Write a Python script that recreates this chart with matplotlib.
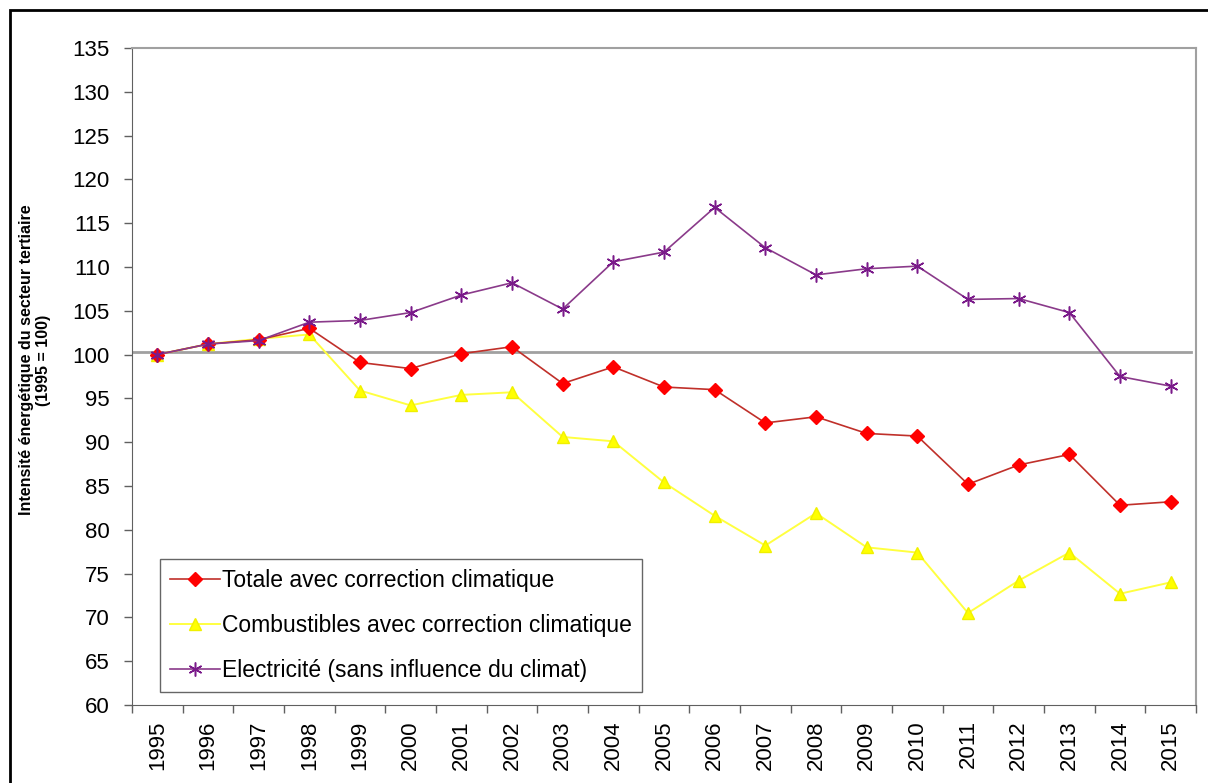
import matplotlib.pyplot as plt
from matplotlib.patches import Rectangle

plt.rcParams['font.family'] = ['Liberation Sans', 'DejaVu Sans']

# donnees (indice 1995 = 100)
annees = [str(a) for a in range(1995, 2016)]
totale = [100.0, 101.2, 101.7, 103.0, 99.1, 98.4, 100.1, 100.9, 96.7, 98.6, 96.3,
          96.0, 92.2, 92.9, 91.0, 90.7, 85.2, 87.4, 88.6, 82.8, 83.2]
combustibles = [100.0, 101.2, 101.8, 102.3, 95.9, 94.2, 95.4, 95.7, 90.6, 90.1, 85.4,
                81.6, 78.2, 81.9, 78.0, 77.4, 70.5, 74.2, 77.4, 72.7, 74.0]
electricite = [100.0, 101.2, 101.6, 103.7, 103.9, 104.8, 106.8, 108.2, 105.2, 110.6, 111.7,
               116.8, 112.2, 109.1, 109.8, 110.1, 106.3, 106.4, 104.8, 97.5, 96.4]
reference = 100.3
y_ticks = list(range(60, 136, 5))

noms = ['Totale avec correction climatique',
        'Combustibles avec correction climatique',
        'Electricité (sans influence du climat)']

fig = plt.figure(figsize=(12.08, 7.83), dpi=100)
ax = fig.add_axes([132 / 1208, 1 - 705 / 783, 1064 / 1208, 657 / 783])

x = list(range(len(annees)))

# ligne de reference grise
ax.axhline(reference, xmax=0.995, color='#a0a0a0', lw=2, zorder=1)

ax.plot(x, totale, color='#c0302a', lw=1.2, marker='D', ms=7,
        mfc='#ff0000', mec='#ff0000', label=noms[0], zorder=3)
ax.plot(x, combustibles, color='#ffff40', lw=1.4, marker='^', ms=8,
        mfc='#ffff00', mec='#f0f000', label=noms[1], zorder=2)
ax.plot(x, electricite, color='#8a3a8a', lw=1.2, marker=(6, 2, 0), ms=10,
        mec='#7a1a8a', mew=1.1, label=noms[2], zorder=4)

ax.set_xlim(-0.5, len(annees) - 0.5)
ax.set_ylim(60, 135)
ax.set_yticks(y_ticks)
ax.set_yticklabels([str(v) for v in y_ticks], fontsize=16)

# ticks entre les categories, etiquettes au centre
ax.set_xticks([i - 0.5 for i in range(len(annees) + 1)])
ax.set_xticklabels([])
ax.set_xticks(x, minor=True)
ax.set_xticklabels(annees, minor=True, rotation=90, fontsize=16)
ax.tick_params(axis='x', which='major', length=6, color='#606060', width=1)
ax.tick_params(axis='x', which='minor', length=0, pad=11)
ax.tick_params(axis='y', length=6, color='#606060', width=1, pad=10)

for s in ['left', 'bottom']:
    ax.spines[s].set_color('#606060')
for s in ['top', 'right']:
    ax.spines[s].set_color('#a0a0a0')
    ax.spines[s].set_linewidth(1.5)

leg = ax.legend(loc='lower left', bbox_to_anchor=(0.026, 0.02), borderaxespad=0,
                fontsize=16.5, frameon=True, fancybox=False, handlelength=2.2,
                handletextpad=0.05, labelspacing=0.95, borderpad=0.45)
leg.get_frame().set_edgecolor('#404040')
leg.get_frame().set_linewidth(1)

fig.text(35 / 1208, 1 - 360 / 783,
         'Intensité énergétique du secteur tertiaire\n(1995 = 100)',
         rotation=90, ha='center', va='center', multialignment='center',
         fontsize=11.5, fontweight='bold', linespacing=1.12)

# cadre noir autour du graphique
fig.patches.append(Rectangle((10 / 1208, -0.1), 1.1, 1.1 - 10 / 783,
                             transform=fig.transFigure, fill=False,
                             edgecolor='black', lw=2, zorder=0))

fig.savefig('out.png', dpi=100)
